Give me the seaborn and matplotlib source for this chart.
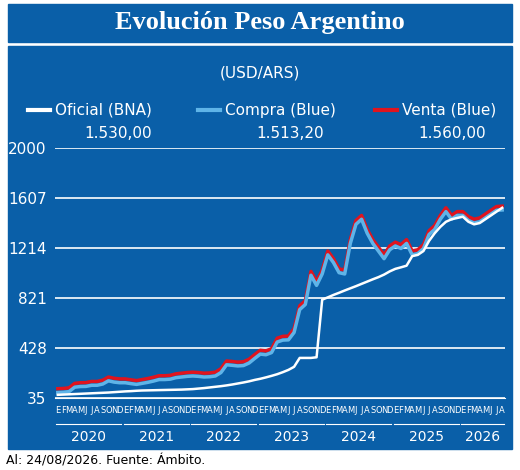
import numpy as np
import pandas as pd
import seaborn as sns
import matplotlib.pyplot as plt
from matplotlib.patches import Rectangle
from matplotlib.lines import Line2D

# monthly values, Jan 2020 .. Aug 2026
oficial = [60, 62, 64, 66, 68, 70, 72, 74, 76, 78, 81, 84,
           87, 89, 92, 94, 95, 96, 97, 98, 99, 100, 101, 103,
           105, 109, 113, 118, 123, 128, 134, 141, 149, 157, 166, 177,
           186, 197, 209, 222, 238, 256, 280, 350, 350, 350, 355, 808,
           826, 845, 862, 880, 897, 914, 932, 950, 968, 985, 1005, 1030,
           1050, 1062, 1075, 1150, 1160, 1190, 1270, 1330, 1380, 1420, 1440, 1450,
           1460, 1420, 1400, 1410, 1440, 1470, 1500, 1530]
compra = [78, 80, 85, 120, 125, 126, 135, 135, 145, 170, 160, 155,
          155, 148, 142, 150, 158, 168, 180, 180, 183, 195, 200, 205,
          208, 205, 200, 202, 208, 235, 296, 292, 287, 290, 310, 346,
          380, 375, 392, 475, 490, 492, 550, 730, 770, 1000, 920, 1010,
          1160, 1100, 1020, 1010, 1250, 1400, 1440, 1330, 1250, 1190, 1130, 1200,
          1230, 1210, 1250, 1160, 1170, 1210, 1320, 1360, 1440, 1500, 1440, 1470,
          1470, 1430, 1410, 1420, 1450, 1480, 1510, 1513]
venta = [v + 30 for v in compra]
months = list(range(len(compra)))
years = ["2020", "2021", "2022", "2023", "2024", "2025", "2026"]
month_letters = ["E", "F", "M", "A", "M", "J", "J", "A", "S", "O", "N", "D"]
yticks = [35, 428, 821, 1214, 1607, 2000]

df = pd.DataFrame({"mes": months * 3,
                   "valor": venta + compra + oficial,
                   "serie": ["Venta"] * len(months) + ["Compra"] * len(months) + ["Oficial"] * len(months)})

blue = "#0a5fa8"
fig = plt.figure(figsize=(5.2, 4.7), dpi=100)
W, H = 520, 470

def fx(px):
    return px / W

def fy(py):
    return 1 - py / H

fig.patches.append(Rectangle((fx(8), fy(42)), fx(504), 38 / H, transform=fig.transFigure, color=blue, zorder=-5))
fig.patches.append(Rectangle((fx(8), fy(449)), fx(504), 403 / H, transform=fig.transFigure, color=blue, zorder=-5))
fig.text(0.5, fy(23), "Evolución Peso Argentino", color="white", fontsize=19, fontweight="bold",
         family="Liberation Serif", ha="center", va="center")
fig.text(0.5, fy(73), "(USD/ARS)", color="white", fontsize=11, ha="center", va="center")
fig.text(fx(6), fy(461), "Al: 24/08/2026. Fuente: Ámbito.", color="black", fontsize=9, va="center")

leg = [(28, "white", "Oficial (BNA)", "1.530,00", 118),
       (198, "#5fb4e8", "Compra (Blue)", "1.513,20", 290),
       (375, "#e0141e", "Venta (Blue)", "1.560,00", 452)]
for x0, c, lab, val, vx in leg:
    fig.lines.append(Line2D([fx(x0), fx(x0 + 22)], [fy(110), fy(110)], transform=fig.transFigure, color=c, lw=3))
    fig.text(fx(x0 + 27), fy(110), lab, color="white", fontsize=11, va="center")
    fig.text(fx(vx), fy(133), val, color="white", fontsize=11, va="center", ha="center")

ax = fig.add_axes([fx(55), fy(398), fx(450), 250 / H])
ax.set_zorder(5)
ax.set_facecolor(blue)
palette = {"Venta": "#e0141e", "Compra": "#5fb4e8", "Oficial": "white"}
sizes = {"Venta": 2.5, "Compra": 2.5, "Oficial": 1.8}
for s in ["Venta", "Compra", "Oficial"]:
    sns.lineplot(data=df[df["serie"] == s], x="mes", y="valor", color=palette[s], lw=sizes[s], ax=ax, legend=False)
ax.set_ylim(35, 2000)
ax.set_xlim(-0.5, len(months) - 0.5)
ax.set_yticks(yticks)
ax.set_yticklabels([str(t) for t in yticks], color="white", fontsize=11, family="Liberation Sans Narrow")
ax.grid(axis="y", color="white", lw=1.2)
ax.set_axisbelow(True)
ax.set_xticks([])
ax.set_xlabel("")
ax.set_ylabel("")
ax.tick_params(axis="y", length=0, pad=6)
for sp in ax.spines.values():
    sp.set_visible(False)
ax.spines["bottom"].set_visible(True)
ax.spines["bottom"].set_color("white")

tr = ax.get_xaxis_transform()
for m in months:
    ax.text(m, -0.05, month_letters[m % 12], transform=tr, color="white", fontsize=6,
            family="Liberation Sans Narrow", ha="center", va="center", clip_on=False)
for i, y in enumerate(years):
    a = i * 12 - 0.3
    b = min(i * 12 + 11.3, len(months) - 0.7)
    ax.plot([a, b], [-0.105, -0.105], transform=tr, color="white", lw=0.8, clip_on=False)
    ax.text((a + b) / 2, -0.155, y, transform=tr, color="white", fontsize=10,
            family="Liberation Sans Narrow", ha="center", va="center", clip_on=False)

fig.savefig("out.png", dpi=100)
